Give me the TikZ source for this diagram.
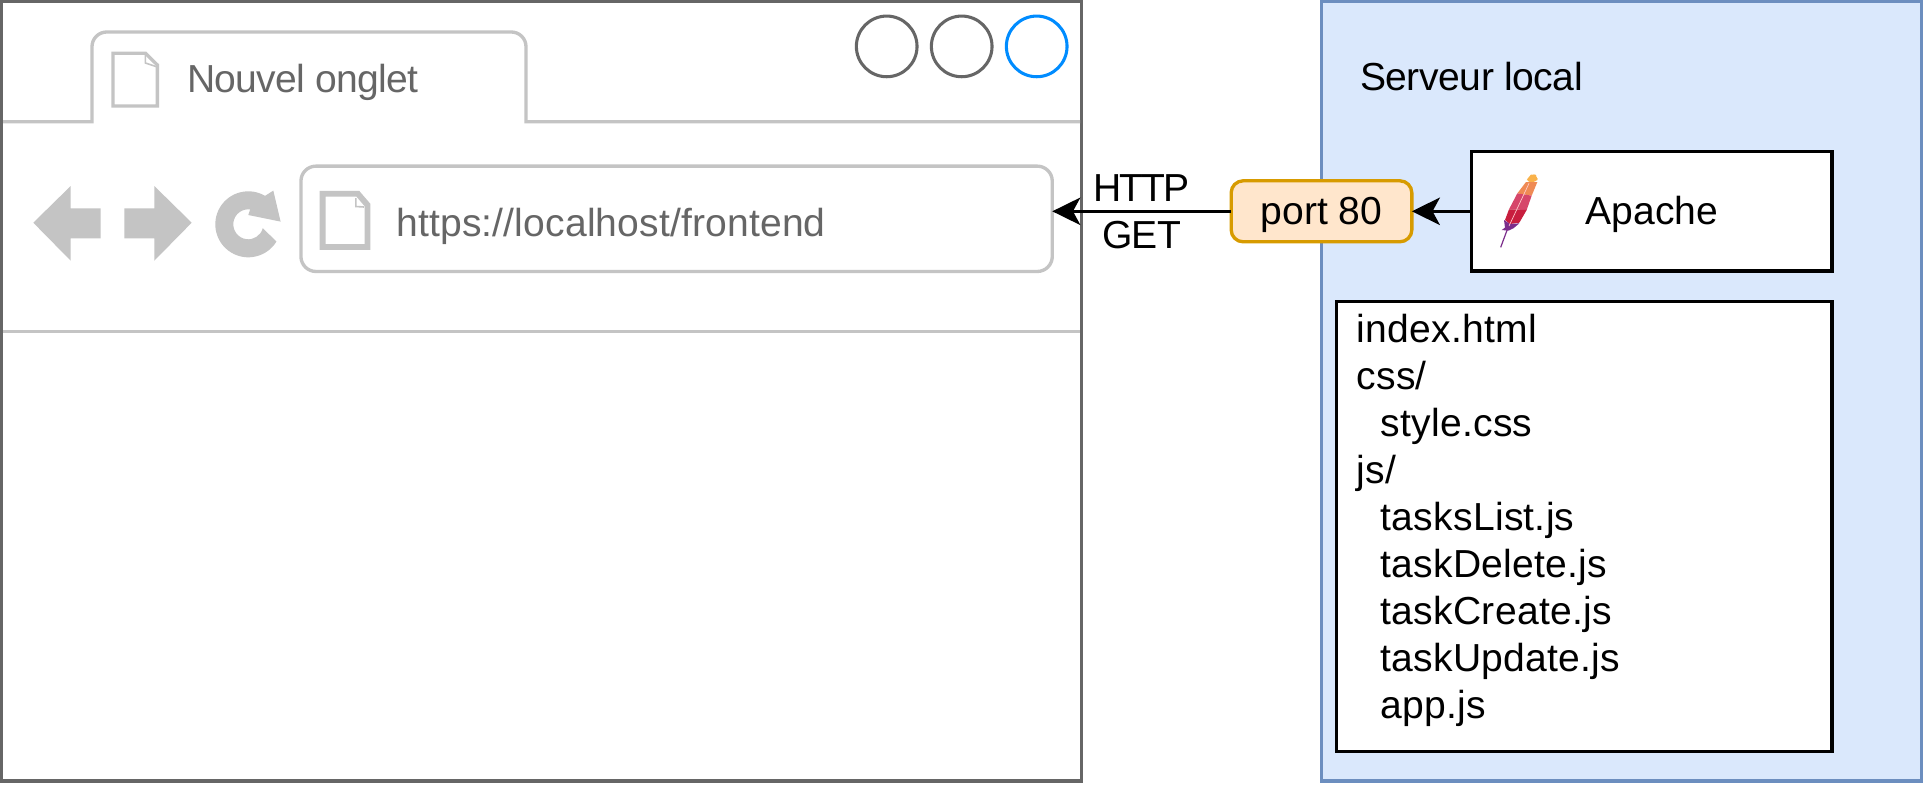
\documentclass[tikz,border=0pt]{standalone}
\usepackage{fontspec}
\setmainfont{Liberation Sans}
\usetikzlibrary{arrows.meta,positioning}

\definecolor{framegray}{HTML}{666666}
\definecolor{tabgray}{HTML}{C4C4C4}
\definecolor{closeblue}{HTML}{008CFF}
\definecolor{serverfill}{HTML}{DAE8FC}
\definecolor{serverline}{HTML}{6C8EBF}
\definecolor{portfill}{HTML}{FFE6CC}
\definecolor{portline}{HTML}{D79B00}

\tikzset{
  every node/.style={font=\fontsize{29.3pt}{35.25pt}\selectfont, inner sep=0pt, outer sep=0pt},
  winbtn/.style={circle, draw=framegray, line width=2.3pt, minimum size=45.5pt},
  blackbox/.style={draw=black, fill=white, line width=2.5pt},
  tabline/.style={draw=tabgray, line width=2.5pt},
  navicon/.style={fill=tabgray},
  graytext/.style={text=framegray, anchor=base west},
  boxtext/.style={text height=25.4pt, text depth=6.2pt},
}
\newcommand{\fileindent}{\hspace*{.62em}}
\newcommand{\tracked}[2]{\addfontfeature{LetterSpace=#1}#2}

\begin{document}
\begin{tikzpicture}[x=.75pt, y=-.75pt, >={Stealth[length=21pt,width=20.5pt,inset=5.5pt]}]
\useasboundingbox (0,0) rectangle (1923,786);

\path
(1621.6,391.2) node[draw=serverline, fill=serverfill, line width=2.4pt, minimum width=450pt, minimum height=584.6pt] (server) {}
(541.6,391.2)  node[draw=framegray, fill=white, line width=2.5pt, minimum width=810.1pt, minimum height=584.6pt] (browser) {}
(886.7,46.4)   node[winbtn] (minbtn) {}
(961.7,46.4)   node[winbtn] (maxbtn) {}
(1036.7,46.4)  node[winbtn, draw=closeblue] (closebtn) {};

\draw[tabline] (3,121.7) -- (92,121.7) [rounded corners=11pt] -- (92,32) -- (526,32) [sharp corners] -- (526,121.7) -- (1080,121.7);
\draw[tabline] (3,331.7) -- (1080,331.7);

\draw[tabline, fill=white, line join=miter] (113,53.2) -- (145.4,53.2) -- (157.4,65) -- (157.4,106) -- (113,106) -- cycle;
\draw[tabline, line width=1.2pt] (145.4,53.2) -- (145.4,63) -- (157.4,67);

\fill[navicon] (33.3,222.7) -- (70.7,186) -- (70.7,208.3) -- (100.7,208.3) -- (100.7,238.3) -- (70.7,238.3) -- (70.7,260.7) -- cycle;
\fill[navicon] (191.7,222.7) -- (154.3,186) -- (154.3,208.3) -- (124.3,208.3) -- (124.3,238.3) -- (154.3,238.3) -- (154.3,260.7) -- cycle;
\begin{scope}[shift={(248.3,224.3)}, y=.75pt]
\fill[navicon] (-31.5:33) arc (-31.5:-300.5:33) -- (25,33.7) -- (32.3,2.7) -- (0,9.3) -- (83:15) arc (83:345:15) -- cycle;
\end{scope}

\path
(676.6,218.8) node[tabline, fill=white, rounded corners=11.25pt, minimum width=563.5pt, minimum height=79pt] (url) {}
(187,92.7)    node[graytext] (tabtitle) {\tracked{-1.7}{Nouvel onglet}}
(396.5,236)   node[graytext] (urltext) {\tracked{.36}{https://localhost/frontend}};

\draw[tabgray, line width=4.4pt, line join=miter] (322.6,193.7) -- (357.8,193.7) -- (367.5,205) -- (367.5,247) -- (322.6,247) -- cycle;
\draw[tabgray, line width=1.2pt] (355.8,198) -- (355.8,206.5) -- (364,207);

\path
(1360,90.7)    node[anchor=base west] (srvlabel) {\tracked{-1.2}{Serveur local}}
(1651.8,211.3) node[blackbox, boxtext, minimum width=270.2pt, minimum height=89.5pt] (apache) {Apache}
(1321.5,211.3) node[draw=portline, fill=portfill, line width=2.5pt, rounded corners=9pt, boxtext, minimum width=135.5pt, minimum height=45.75pt] (port) {port 80}
(1584.4,526.7) node[blackbox, minimum width=371.5pt, minimum height=337.5pt, text width=341.7pt, align=left, text depth=296.8pt] (files) {\addfontfeature{LetterSpace=.6}index.html\\
css/\\
\fileindent style.css\\
js/\\
\fileindent tasksList.js\\
\fileindent taskDelete.js\\
\fileindent taskCreate.js\\
\fileindent taskUpdate.js\\
\fileindent app.js};

\draw[->, line width=2.5pt] (apache) -- (port);
\draw[->, line width=2.5pt] (port.west) -- (port.west -| url.east) node[midway, align=center] (httpget) {\addfontfeature{LetterSpace=-4.7}HTTP\\\addfontfeature{LetterSpace=-1.5}GET};

\begin{scope}[shift={(1460,130)}, x=.25pt, y=-.25pt]
\fill[rounded corners=3pt, fill={rgb,255:red,249;green,178;blue,74}] (205,140) -- (220,129) -- (233,140) -- (232,156) -- (198,156) -- cycle;
\fill[fill={rgb,255:red,239;green,138;blue,84}] (198,156) -- (232,156) -- (215,197) -- (172,190) -- cycle;
\fill[fill={rgb,255:red,214;green,70;blue,106}] (172,190) -- (215,197) -- (200,240) -- (147,238) -- cycle;
\fill[fill={rgb,255:red,200;green,30;blue,62}] (147,238) -- (200,240) -- (178,278) -- (150,282) -- (135,270) -- cycle;
\fill[fill={rgb,255:red,123;green,45;blue,139}] (132,270) -- (150,282) -- (178,280) -- (160,295) -- (145,302) -- (125,300) -- (135,293) -- cycle;
\draw[draw={rgb,255:red,123;green,45;blue,139}, line width=.9pt] (145,290) -- (122,352);
\draw[white!80!red, line width=.5pt] (207,160) -- (147,288);
\end{scope}
\end{tikzpicture}
\end{document}
